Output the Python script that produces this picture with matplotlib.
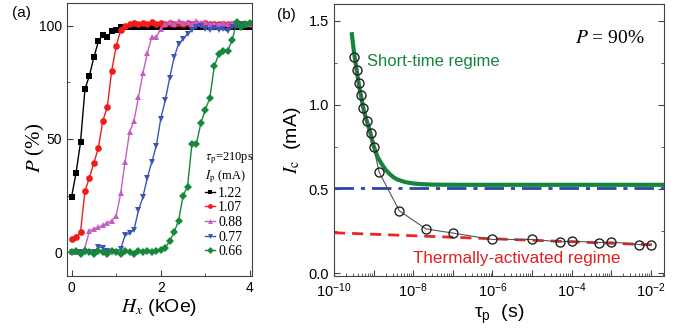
import numpy as np
import matplotlib
matplotlib.use("Agg")
import matplotlib.pyplot as plt
from matplotlib.lines import Line2D
from matplotlib.ticker import FixedLocator, FuncFormatter, LogLocator, NullFormatter, MultipleLocator

plt.rcParams['font.family'] = ['Liberation Sans', 'DejaVu Sans']
plt.rcParams['mathtext.fontset'] = 'stix'

# ---------------- Panel (a) data ----------------
hx = np.round(np.arange(0, 4.01, 0.1), 1)   # kOe grid of measurements
p_122 = [24.5, 35, 48.5, 72, 78, 86, 93, 96, 95, 97.5, 98, 99.5, 99.5, 99.5, 99.5, 99.5, 99.5, 99.5, 99.5, 99.5,
         99.5, 99.5, 99.5, 99.5, 99.5, 99.5, 99.5, 99.5, 99.5, 99.5, 99.5, 99.5, 99.5, 99.5, 99.5, 99.5, 99.5, 99.5,
         99.5, 99.5, 99.5]
p_107 = [5.7, 6.6, 9, 27, 33, 39.5, 46, 58, 64, 80, 91, 98, 100, 100.5, 101, 100.5, 101, 100.5, 101.5, 100.5,
         101, 100.5, 101, 100.5, 101, 100.5, 101, 100.5, 101, 100.5, 101, 100.5, 100.5, 100.5, 100.5, 100.5, 100.5,
         100.5, 100.5, 100.5, 100.5]
p_088 = [0, 0, 0, 2, 9.5, 10.5, 11, 12, 13, 14, 16, 26, 40, 53, 58, 68.5, 79, 88, 95, 95, 98.5, 100.5, 101.5,
         100.5, 102, 101, 101.5, 100.5, 102, 101, 101.5, 100.5, 101, 100.5, 101, 100.5, 101, 100.5, 100.5, 100.5,
         100.5]
p_077 = [0, 0, 0, 0, 0, 0, 2.5, 2, 0.5, 0, 0, 1.5, 7.5, 8.5, 10, 18.5, 24.5, 33, 40, 47, 59, 67, 77, 86, 92, 94,
         96.5, 98, 99.5, 100, 98.5, 98, 99, 98, 98.5, 97.5, 99.5, 100, 100.5, 100, 100.5]
p_066 = [0, 0.5, -0.5, 0.5, 0, -0.5, 0.5, 0, -0.5, 0.5, 0, -0.5, 0.5, 0, -0.5, 0.5, 0, 0.5, 0, 0.5, 1, 2, 5, 9,
         14, 25, 29, 48, 48, 57, 63, 68, 82, 87.5, 89, 89, 93.5, 101.5, 99.5, 100.5, 101]
ip_labels = ['1.22', '1.07', '0.88', '0.77', '0.66']
a_xticks = [0, 2, 4]
a_yticks = [0, 50, 100]

# ---------------- Panel (b) data ----------------
tau_exp = [-9.49, -9.42, -9.38, -9.32, -9.28, -9.17, -9.07, -9.0, -8.86, -8.35, -7.68, -7.0, -6.0, -5.0, -4.3,
           -4.0, -3.3, -3.0, -2.3, -2.0]
ic_meas = [1.285, 1.206, 1.129, 1.056, 0.981, 0.902, 0.83, 0.75, 0.599, 0.37, 0.263, 0.238, 0.200, 0.200, 0.186,
           0.19, 0.182, 0.185, 0.170, 0.167]
fit_short_exp = [-9.55, -9.5, -9.45, -9.4, -9.35, -9.3, -9.25, -9.2, -9.1, -9.0, -8.9, -8.8, -8.7, -8.6, -8.5,
                 -8.4, -8.2, -8.0, -7.8, -7.5, -7.0, -6.0, -4.0, -2.0, -1.67]
fit_short_ic = [1.42, 1.32, 1.24, 1.16, 1.09, 1.03, 0.97, 0.925, 0.85, 0.755, 0.69, 0.65, 0.615, 0.59, 0.57,
                0.556, 0.541, 0.533, 0.529, 0.526, 0.525, 0.525, 0.525, 0.525, 0.525]
fit_thermal_exp = [-10.0, -1.93]
fit_thermal_ic = [0.240, 0.168]
ic0_exp = [-10.0, -1.67]
ic0_val = [0.508, 0.508]
b_yticks = [0.0, 0.5, 1.0, 1.5]

# ---------------- Figure ----------------
fig = plt.figure(figsize=(6.91, 3.31), dpi=100)
spine_c = '#444444'

axa = fig.add_axes([0.0965, 0.167, 0.2678, 0.8248])
styles = [('s', 'black'), ('o', '#f01c1c'), ('^', '#c45ec4'), ('v', '#3a55b5'), ('D', '#16883a')]
series = [p_122, p_107, p_088, p_077, p_066]
handles = []
for (m, c), ys, lab in zip(styles, series, ip_labels):
    ms = 4.8 if m != 'D' else 4.0
    axa.plot(hx, ys, marker=m, color=c, ms=ms, lw=1.0, mew=0)
    handles.append(Line2D([], [], marker=m, color=c, ms=3.5, lw=1.0, mew=0))

axa.set_xlim(-0.11, 4.04)
axa.set_ylim(-10.3, 110.1)
axa.xaxis.set_major_locator(FixedLocator(a_xticks))
axa.xaxis.set_minor_locator(MultipleLocator(1))
axa.yaxis.set_major_locator(FixedLocator(a_yticks))
axa.yaxis.set_minor_locator(MultipleLocator(25))
axa.tick_params(which='both', direction='in', labelsize=10, colors=spine_c, labelcolor='black')
axa.tick_params(which='major', length=4)
axa.tick_params(which='minor', length=2.5)
for s in axa.spines.values():
    s.set_color(spine_c)
axa.set_xlabel(r'$H_x$ (kOe)', fontsize=14, labelpad=2)
axa.set_ylabel(r'$P$ (%)', fontsize=15, family='Liberation Serif')
axa.yaxis.set_label_coords(-0.105, 0.47)

leg = axa.legend(handles, ip_labels, loc='upper left', bbox_to_anchor=(0.71, 0.485), frameon=False,
                 handlelength=0.7, handletextpad=0.25, labelspacing=0.12, borderpad=0.0,
                 prop={'family': 'Liberation Serif', 'size': 10},
                 title=r'$\tau_{\rm p}$=210ps' + '\n' + r'$I_{\rm p}$ (mA)',
                 title_fontproperties={'family': 'Liberation Serif', 'size': 9}, alignment='left')

fig.text(0.018, 0.96, '(a)', fontsize=11, va='center')

# Panel (b)
axb = fig.add_axes([0.4834, 0.1647, 0.4775, 0.8233])
tau = 10.0 ** np.array(tau_exp)
axb.plot(10.0 ** np.array(ic0_exp), ic0_val, color='#2a47a8', lw=2.0, dashes=(7, 2.5, 1.5, 2.5), zorder=2)
axb.plot(10.0 ** np.array(fit_thermal_exp), fit_thermal_ic, color='#ee2222', lw=2.0, dashes=(4, 2.5), zorder=2)
axb.plot(10.0 ** np.array(fit_short_exp), fit_short_ic, color='#14853a', lw=3.0, zorder=3)
axb.plot(tau, ic_meas, color='#555555', lw=0.8, marker='o', ms=6.5, mfc='none', mec='#222222', mew=1.0,
         zorder=4)
axb.set_xscale('log')
axb.set_xlim(1e-10, 10 ** -1.67)
axb.set_ylim(-0.02, 1.6)
axb.xaxis.set_major_locator(LogLocator(base=10, numticks=20))
axb.xaxis.set_minor_locator(LogLocator(base=10, subs=np.arange(2, 10), numticks=20))
axb.xaxis.set_minor_formatter(NullFormatter())


def fmt(v, pos):
    e = int(round(np.log10(v)))
    return r'$\mathregular{10^{%d}}$' % e if e % 2 == 0 else ''


axb.xaxis.set_major_formatter(FuncFormatter(fmt))
axb.yaxis.set_major_locator(FixedLocator(b_yticks))
axb.yaxis.set_minor_locator(MultipleLocator(0.25))
axb.yaxis.set_major_formatter(FuncFormatter(lambda v, p: '%.1f' % v))
axb.tick_params(which='both', direction='in', labelsize=10.5, colors=spine_c, labelcolor='black', right=True)
axb.tick_params(which='major', length=4)
axb.tick_params(which='minor', length=2.5)
for s in axb.spines.values():
    s.set_color(spine_c)
axb.set_xlabel(r'$\mathregular{\tau_p}$  (s)', fontsize=14, labelpad=2)
axb.set_ylabel(r'$I_{\mathrm{c}}$  (mA)', fontsize=14, labelpad=4)

axb.text(0.73, 0.855, r'$P$ = 90%', transform=axb.transAxes, fontsize=14, family='Liberation Serif')
axb.text(0.10, 0.79, 'Short-time regime', transform=axb.transAxes, fontsize=12, color='#14853a', va='center')
axb.text(0.24, 0.065, 'Thermally-activated regime', transform=axb.transAxes, fontsize=12.3, color='#e02020',
         va='center')
fig.text(0.401, 0.955, '(b)', fontsize=11, va='center')

fig.savefig('out.png', dpi=100)
